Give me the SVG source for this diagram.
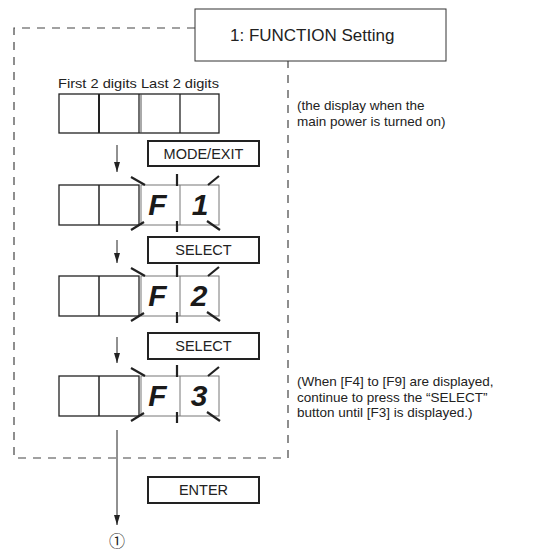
<svg xmlns="http://www.w3.org/2000/svg" width="555" height="553" viewBox="0 0 555 553">
<defs>
<marker id="ah" markerWidth="6" markerHeight="10" refX="3" refY="10" orient="0" markerUnits="userSpaceOnUse">
<path d="M0,0 L6,0 L3,10 Z" fill="#222"/>
</marker>
<style>
text{font-family:"Liberation Sans",Arial,sans-serif;fill:#222}
.btn{fill:#fff;stroke:#222;stroke-width:2}
.bt{font-size:14.5px;text-anchor:middle}
.cell{fill:#fff;stroke:#222;stroke-width:1.3}
.lit{fill:#fff;stroke:#777;stroke-width:1}
.dig{font-size:30px;font-weight:bold;font-style:italic;text-anchor:middle;fill:#1a1a1a}
.fl{stroke:#222;stroke-width:2.2;fill:none}
.note{font-size:13.5px}
.dash{fill:none;stroke:#444;stroke-width:1.2;stroke-dasharray:8 7}
.conn{stroke:#222;stroke-width:1;fill:none}
</style>
</defs>

<g id="frame">
<path class="dash" d="M195,28 H14 V458 H288 V61"/>
</g>

<g id="title">
<rect x="195" y="9" width="251" height="52" fill="#fff" stroke="#333" stroke-width="1"/>
<text x="230" y="41" style="font-size:17px">1: FUNCTION Setting</text>
</g>

<g id="display0">
<text x="58" y="88" style="font-size:13px" textLength="161" lengthAdjust="spacingAndGlyphs">First 2 digits Last 2 digits</text>
<rect class="cell" x="59" y="94" width="160" height="39"/>
<line x1="99" y1="94" x2="99" y2="133" stroke="#222" stroke-width="2"/>
<line x1="139" y1="94" x2="139" y2="133" stroke="#222" stroke-width="1.3"/>
<line x1="141" y1="94" x2="141" y2="133" stroke="#555" stroke-width="1"/>
<line x1="180" y1="94" x2="180" y2="133" stroke="#222" stroke-width="1.3"/>
<text class="note" x="297" y="110">(the display when the</text>
<text class="note" x="297" y="125.5">main power is turned on)</text>
</g>

<g id="btn-mode">
<rect class="btn" x="148" y="141" width="111" height="25"/>
<text class="bt" x="203.5" y="159">MODE/EXIT</text>
</g>

<g id="display1">
<rect class="cell" x="59" y="185" width="80" height="40"/>
<line x1="99" y1="185" x2="99" y2="225" stroke="#222" stroke-width="1.5"/>
<rect class="lit" x="141" y="185" width="78" height="40"/>
<line x1="180" y1="185" x2="180" y2="225" stroke="#777" stroke-width="1"/>
<text class="dig" x="157.5" y="215">F</text>
<text class="dig" x="200" y="215">1</text>
<path class="fl" d="M131,177 L145,185 M177,174 V186 M208,185 L219,176 M131,230 L144,222 M177,221 V232 M207,221 L220,230"/>
</g>

<g id="btn-select1">
<rect class="btn" x="148" y="237" width="111" height="26"/>
<text class="bt" x="203.5" y="255">SELECT</text>
</g>

<g id="display2">
<rect class="cell" x="59" y="276" width="80" height="40"/>
<line x1="99" y1="276" x2="99" y2="316" stroke="#222" stroke-width="1.5"/>
<rect class="lit" x="141" y="276" width="78" height="40"/>
<line x1="180" y1="276" x2="180" y2="316" stroke="#777" stroke-width="1"/>
<text class="dig" x="157.5" y="306">F</text>
<text class="dig" x="199" y="306">2</text>
<path class="fl" d="M131,268 L145,276 M177,265 V277 M208,276 L219,267 M131,321 L144,313 M177,312 V323 M207,312 L220,321"/>
</g>

<g id="btn-select2">
<rect class="btn" x="148" y="333" width="111" height="26"/>
<text class="bt" x="203.5" y="351">SELECT</text>
</g>

<g id="display3">
<rect class="cell" x="59" y="376" width="80" height="40"/>
<line x1="99" y1="376" x2="99" y2="416" stroke="#222" stroke-width="1.5"/>
<rect class="lit" x="141" y="376" width="78" height="40"/>
<line x1="180" y1="376" x2="180" y2="416" stroke="#777" stroke-width="1"/>
<text class="dig" x="157.5" y="406">F</text>
<text class="dig" x="199" y="406">3</text>
<path class="fl" d="M131,368 L145,376 M177,365 V377 M208,376 L219,367 M131,421 L144,413 M177,412 V423 M207,412 L220,421"/>
<text class="note" x="297" y="386">(When [F4] to [F9] are displayed,</text>
<text class="note" x="297" y="401.5">continue to press the “SELECT”</text>
<text class="note" x="297" y="417">button until [F3] is displayed.)</text>
</g>

<g id="btn-enter">
<rect class="btn" x="148" y="477" width="111" height="26"/>
<text class="bt" x="203.5" y="495">ENTER</text>
</g>

<g id="end">
<text x="117" y="547" style="font-size:16px;text-anchor:middle;font-family:'Noto Sans CJK JP','DejaVu Sans',sans-serif">①</text>
</g>

<g id="connectors">
<line class="conn" x1="117" y1="145" x2="117" y2="172" marker-end="url(#ah)"/>
<line class="conn" x1="117" y1="240" x2="117" y2="263" marker-end="url(#ah)"/>
<line class="conn" x1="117" y1="337" x2="117" y2="363" marker-end="url(#ah)"/>
<line class="conn" x1="117" y1="430" x2="117" y2="525" marker-end="url(#ah)"/>
</g>
</svg>
